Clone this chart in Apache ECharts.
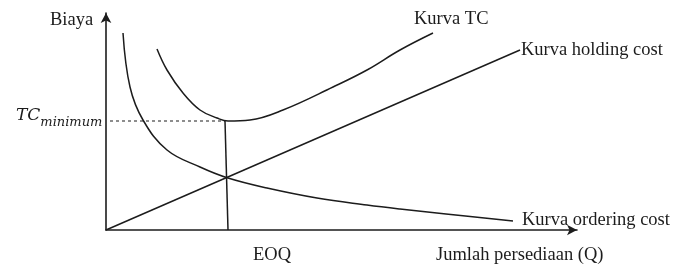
<!DOCTYPE html>
<html>
<head>
<meta charset="utf-8">
<script src="https://cdn.jsdelivr.net/npm/echarts@6/dist/echarts.min.js"></script>
<style>
  html, body { margin: 0; padding: 0; background: #fff; }
  #main { width: 679px; height: 268px; }
</style>
</head>
<body>
<div id="main"></div>
<script>
// data (Q, biaya)
var orderingCost = [[17, 197], [24, 143], [37, 110], [61, 80], [94, 63], [122, 52], [161, 42], [211, 32], [261, 25], [294, 21], [340, 16], [407, 9]];
var totalCost = [[51, 181], [61, 160], [77, 137], [94, 120], [111, 112], [122, 109], [144, 110], [177, 120], [227, 143], [261, 160], [294, 180], [327, 197]];
var holdingCost = [[0, 0], [414, 180]];
var eoqLine = [[122, 0], [119, 109]];
var tcMinLine = [[4, 109], [119, 109]];

var myChart = echarts.init(document.getElementById('main'));
var ink = '#1c1c1c';
var serif = '"Liberation Serif", "DejaVu Serif", serif';

var lineSeries = function(name, data, smooth, dashed) {
	return {
		name: name,
		type: 'line',
		data: data,
		smooth: smooth,
		symbol: 'none',
		silent: true,
		lineStyle: {
			color: ink,
			width: dashed ? 1 : 1.5,
			type: dashed ? [3, 3] : 'solid'
		}
	};
};

// texte
var label = function(x, y, text, size) {
	return {
		type: 'text', x: x, y: y,
		style: { text: text, font: size + 'px ' + serif, fill: ink, verticalAlign: 'middle' }
	};
};

var option = {
	animation: false,
	grid: {
		left: 106,
		right: 102,
		top: 13,
		bottom: 38
	},
	xAxis: {
		type: 'value',
		min: 0,
		max: 471,
		axisLine: {
			lineStyle: { color: ink, width: 1.6 },
			symbol: ['none', 'arrow'],
			symbolSize: [8, 10]
		},
		axisTick: { show: false },
		axisLabel: { show: false },
		splitLine: { show: false }
	},
	yAxis: {
		type: 'value',
		min: 0,
		max: 217,
		axisLine: {
			show: true,
			lineStyle: { color: ink, width: 1.6 },
			symbol: ['none', 'arrow'],
			symbolSize: [8, 10]
		},
		axisTick: { show: false },
		axisLabel: { show: false },
		splitLine: { show: false }
	},
	series: [
		lineSeries('Kurva ordering cost', orderingCost, 0.4, false),
		lineSeries('Kurva TC', totalCost, 0.4, false),
		lineSeries('Kurva holding cost', holdingCost, false, false),
		lineSeries('EOQ', eoqLine, false, false),
		lineSeries('TC minimum', tcMinLine, false, true)
	],
	graphic: [
		label(50, 20, 'Biaya', 18.5),
		label(414, 19, 'Kurva TC', 18.5),
		label(521, 50, 'Kurva holding cost', 18.5),
		label(522, 220, 'Kurva ordering cost', 18.5),
		label(253, 255, 'EOQ', 18.5),
		label(436, 255, 'Jumlah persediaan (Q)', 18.5),
		{
			type: 'text', left: 16, top: 107,
			style: {
				text: '{a|TC}{b|minimum}',
				fill: ink,
				rich: {
					a: { font: 'italic 17px "DejaVu Serif", serif', fill: ink, verticalAlign: 'top' },
					b: { font: 'italic 13px "DejaVu Serif", serif', fill: ink, padding: [9, 0, 0, 0] }
				}
			}
		}
	]
};
myChart.setOption(option);
</script>
</body>
</html>
